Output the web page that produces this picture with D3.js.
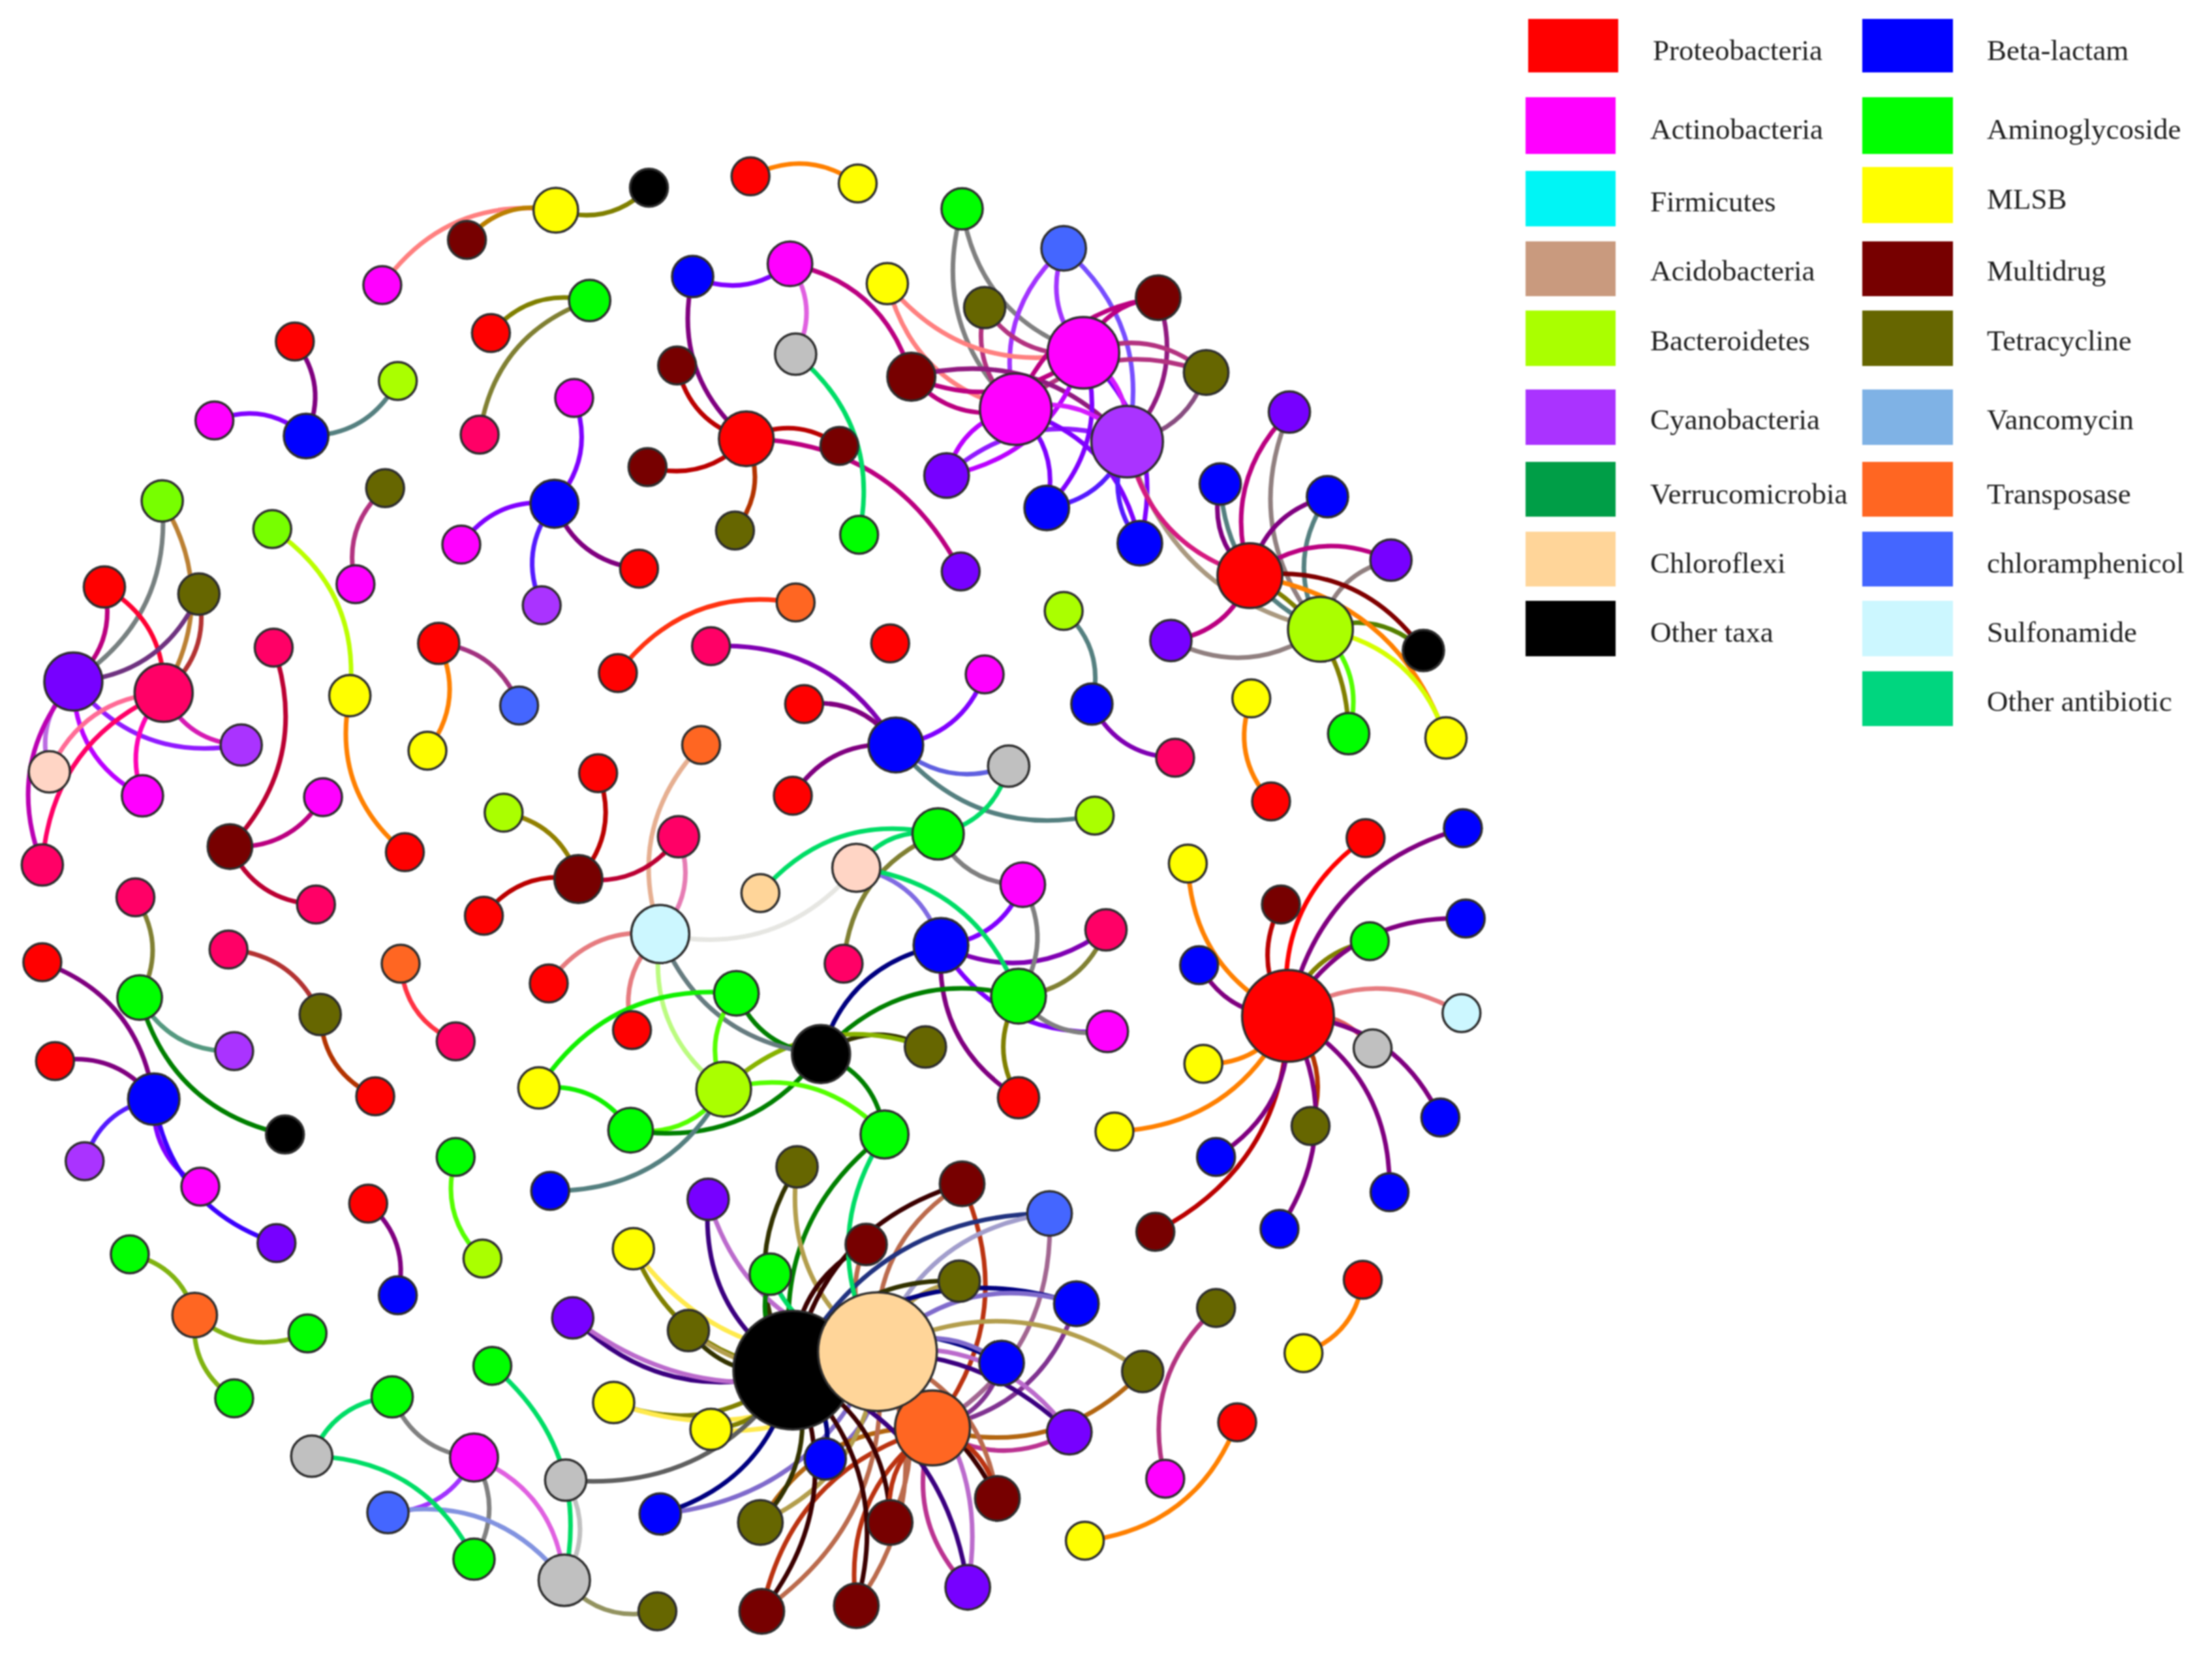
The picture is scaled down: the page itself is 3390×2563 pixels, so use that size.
<!DOCTYPE html>
<html>
<head>
<meta charset="utf-8">
<title>Co-occurrence network</title>
<script src="https://cdn.jsdelivr.net/npm/d3@7"></script>
<style>
  html, body { margin: 0; background: #fff; }
</style>
</head>
<body>
<div id="d3-container"></div>
<script>
// nodes per group: [id, x, y] in a 1568 x 1185 frame
const proteobacteria = [['r1',532,125],['r2',348,236],['r3',209,242],['r4',74,416],['r5',311,456],['r6',438,477],['r7',631,456],['r8',570,499],['r9',562,564],['r10',424,548],['r11',343,649],['r12',287,604],['r13',389,697],['r14',448,730],['r15',722,778],['r16',30,682],['r17',39,752],['r18',266,777],['r19',261,853],['r20',453,403],['r21',529,311],['r22',886,408],['r23',901,568],['r24',913,720],['r25',968,594],['r26',966,907],['r27',877,1008]];
const actinobacteria = [['a1',271,202],['a2',407,282],['a3',152,298],['a4',327,386],['a5',252,414],['a6',101,564],['a7',229,565],['a8',560,187],['a9',768,250],['a10',720,290],['a11',698,478],['a12',725,627],['a13',785,731],['a14',142,841],['a15',336,1033],['a16',826,1048]];
const betaLactam = [['b1',491,196],['b2',217,309],['b3',393,357],['b4',742,360],['b5',808,385],['b6',865,343],['b7',941,352],['b8',635,528],['b9',774,499],['b10',667,670],['b11',109,779],['b12',390,844],['b13',282,918],['b14',850,684],['b15',1037,587],['b16',1039,651],['b17',862,820],['b18',1021,792],['b19',985,845],['b20',907,871],['b21',763,924],['b22',710,966],['b23',585,1034],['b24',468,1073]];
const aminoglycoside = [['g1',682,148],['g2',418,213],['g3',609,379],['g4',956,520],['g5',665,591],['g6',722,706],['g7',522,704],['g8',447,801],['g9',627,804],['g10',99,707],['g11',323,820],['g12',92,889],['g13',218,945],['g14',166,991],['g15',349,968],['g16',278,990],['g17',336,1105],['g18',546,903],['g19',971,667]];
const mlsb = [['y1',394,149],['y2',608,130],['y3',629,201],['y4',248,493],['y5',303,532],['y6',887,495],['y7',1025,523],['y8',842,612],['y9',382,771],['y10',853,754],['y11',790,802],['y12',449,885],['y13',435,994],['y14',504,1013],['y15',924,959],['y16',769,1092]];
const multidrug = [['m1',331,170],['m2',821,211],['m3',480,259],['m4',646,267],['m5',459,331],['m6',595,316],['m7',163,600],['m8',410,623],['m9',908,641],['m10',819,873],['m11',682,839],['m12',614,882],['m13',707,1062],['m14',631,1079],['m15',540,1142],['m16',607,1138]];
const tetracycline = [['t1',698,218],['t2',855,264],['t3',273,346],['t4',141,421],['t5',521,376],['t6',656,742],['t7',227,719],['t8',929,798],['t9',565,827],['t10',680,908],['t11',488,943],['t12',810,972],['t13',539,1079],['t14',466,1142],['t15',862,927]];
const otherTaxa = [['k1',460,133],['k2',1009,461],['k3',582,747],['k4',202,804],['k5',562,971]];
const crimsonTaxa = [['c1',340,308],['c2',116,491],['c3',30,613],['c4',194,459],['c5',224,641],['c6',504,458],['c7',833,537],['c8',481,593],['c9',96,636],['c10',162,673],['c11',323,738],['c12',784,659],['c13',598,683]];
const violetTaxa = [['v1',52,483],['v2',681,405],['v3',671,337],['v4',914,292],['v5',986,397],['v6',830,454],['v7',196,881],['v8',502,850],['v9',406,934],['v10',758,1015],['v11',686,1125]];
const cyanobacteria = [['s1',799,313],['s2',384,429],['s3',171,528],['s4',166,745],['s5',60,823]];
const bacteroidetes = [['h1',282,270],['h2',936,446],['h3',754,433],['h4',776,578],['h5',357,576],['h6',513,772],['h7',342,892]];
const limeTaxa = [['l1',115,355],['l2',193,375]];
const chloramphenicol = [['e1',754,176],['e2',368,500],['e3',275,1072],['e4',744,860]];
const transposase = [['o1',564,427],['o2',497,528],['o3',284,683],['o4',138,932],['o5',661,1012]];
const sulfonamide = [['u1',468,662],['u2',1036,718]];
const blushTaxa = [['p1',35,547],['p2',607,615]];
const silverGenes = [['w1',564,251],['w2',715,543],['w3',973,743],['w4',221,1032],['w5',401,1049],['w6',400,1120]];
const chloroflexi = [['f1',539,633],['f2',622,958]];

// links: [from, to], the arc always bulges to the left of from -> to
const links = [
  ['a1','y1'],['m1','y1'],['k1','y1'],['r1','y2'],['r2','g2'],['c1','g2'],
  ['a2','b3'],['a4','b3'],['s2','b3'],['r20','b3'],['r3','b2'],['a3','b2'],['h1','b2'],
  ['l1','c2'],['l1','v1'],['r4','v1'],['r4','c2'],['t4','v1'],['t4','c2'],['s3','v1'],['s3','c2'],
  ['p1','v1'],['c3','v1'],['a6','v1'],['a6','c2'],['p1','c2'],['c3','c2'],
  ['l2','y4'],['r12','y4'],['a5','t3'],['c4','m7'],['a7','m7'],['c5','m7'],['r5','e2'],['r5','y5'],['r6','o1'],
  ['c6','b8'],['r8','b8'],['r9','b8'],['a11','b8'],['w2','b8'],['h4','b8'],
  ['c13','g5'],['a12','g5'],['p2','b10'],['p2','u1'],['a12','b10'],['c12','b10'],['c12','g6'],
  ['a13','b10'],['a13','g6'],['a12','g6'],['r15','b10'],['r15','g6'],['k3','b10'],['k3','g6'],['k3','t6'],['h6','t6'],
  ['k3','g7'],['k3','u1'],['h6','u1'],['r13','u1'],['r14','u1'],['c8','u1'],['u1','o2'],
  ['h5','m8'],['r10','m8'],['r11','m8'],['c8','m8'],
  ['h6','g8'],['k3','g8'],['h6','g7'],['h6','g9'],['k3','g9'],['h6','b12'],['k5','g9'],
  ['k5','t9'],['f2','t9'],['k5','v8'],['f2','v8'],['k5','y12'],['f2','y12'],['k5','g18'],
  ['k5','m11'],['f2','m11'],['m11','o5'],['k5','m12'],['f2','m12'],['k5','e4'],['f2','e4'],['e4','o5'],
  ['k5','t10'],['f2','t10'],['k5','b21'],['f2','b21'],['b21','o5'],['f2','t12'],['t12','o5'],
  ['k5','b22'],['f2','b22'],['b22','o5'],['k5','v10'],['f2','v10'],['v10','o5'],
  ['k5','v9'],['f2','v9'],['k5','t11'],['f2','t11'],['k5','y13'],['f2','y13'],['k5','y14'],['f2','y14'],
  ['k5','w5'],['k5','b24'],['f2','b24'],['k5','b23'],['f2','b23'],['t13','o5'],['k5','t13'],['f2','t13'],
  ['m15','o5'],['k5','m15'],['f2','m15'],['m16','o5'],['k5','m16'],['f2','m16'],
  ['k5','m14'],['m14','o5'],['f2','m14'],['k5','m13'],['f2','m13'],['o5','m13'],['v11','o5'],['k5','v11'],['f2','v11'],
  ['a15','g16'],['a15','e3'],['a15','g17'],['a15','w6'],['e3','w6'],['w5','w6'],['t14','w6'],
  ['g12','o4'],['g13','o4'],['g14','o4'],['h7','g11'],['r19','b13'],
  ['c9','g10'],['s4','g10'],['k4','g10'],['r16','b11'],['r17','b11'],['s5','b11'],['a14','b11'],['v7','b11'],
  ['c10','t7'],['r18','t7'],['c11','o3'],
  ['a10','g1'],['a9','g1'],['a10','e1'],['a9','e1'],['e1','s1'],['a10','t1'],['a9','t1'],['a10','y3'],['a9','y3'],
  ['a10','m2'],['a9','m2'],['m2','s1'],['a9','t2'],['a10','t2'],['t2','s1'],['m4','s1'],['a10','m4'],['a9','m4'],
  ['a8','m4'],['a8','b1'],['r21','b1'],['a8','w1'],['r21','m3'],['r21','m5'],['r21','m6'],['r21','v2'],['r21','t5'],
  ['v3','a10'],['a9','v3'],['v3','s1'],['a10','b4'],['a9','b4'],['s1','b4'],['a10','b5'],['a9','b5'],['b5','s1'],
  ['a9','s1'],['a10','s1'],['h2','s1'],['r22','s1'],
  ['r22','v4'],['h2','v4'],['r22','b6'],['h2','b6'],['r22','b7'],['h2','b7'],['r22','v5'],['h2','v5'],
  ['r22','k2'],['h2','k2'],['r22','v6'],['h2','v6'],['r22','y7'],['h2','y7'],['h2','g4'],['r22','g4'],
  ['h3','b9'],['c7','b9'],['r23','y6'],
  ['r24','r25'],['r24','b15'],['r24','g19'],['r24','b16'],['r24','u2'],['r24','w3'],['r24','b18'],['r24','b19'],
  ['r24','t8'],['r24','b20'],['r24','m10'],['r24','b17'],['r24','y11'],['r24','y10'],['r24','b14'],['r24','y8'],['r24','m9'],
  ['r26','y15'],['a16','t15'],['r27','y16']
];
// these links are not the plain blend of their two ends in the picture
const springLinks = [['w2','g5'],['f1','g5'],['p2','g5'],['p2','g6'],['f2','g9'],['f2','g18'],['w1','g3'],['w4','g16'],['w4','g17'],['g15','w6']];
const brightLinks = [['y9','g7'],['y9','g8']];

// legend
const taxaLabels = ['Proteobacteria','Actinobacteria','Firmicutes','Acidobacteria','Bacteroidetes','Cyanobacteria','Verrucomicrobia','Chloroflexi','Other taxa'];
const taxaColors = ['#ff0000','#ff00ff','#00f5f5','#c99a7e','#aaff00','#aa33ff','#009e47','#ffd599','#000000'];
const geneLabels = ['Beta-lactam','Aminoglycoside','MLSB','Multidrug','Tetracycline','Vancomycin','Transposase','chloramphenicol','Sulfonamide','Other antibiotic'];
const geneColors = ['#0000ff','#00ff00','#ffff00','#770000','#666600','#7fb2e5','#ff6622','#4466ff','#ccf7ff','#00d67f'];

const width = 3390;
const height = 2563;

// group -> node fill, black first and chloroflexi last so the big hubs stack like the picture
const groups = [
  [otherTaxa, '#000000'], [proteobacteria, '#ff0000'], [actinobacteria, '#ff00ff'], [betaLactam, '#0000ff'],
  [aminoglycoside, '#00ff00'], [mlsb, '#ffff00'], [multidrug, '#770000'], [tetracycline, '#666600'],
  [crimsonTaxa, '#ff0066'], [violetTaxa, '#7700ff'], [cyanobacteria, '#aa33ff'], [bacteroidetes, '#aaff00'],
  [limeTaxa, '#77ff00'], [chloramphenicol, '#4466ff'], [transposase, '#ff6622'], [sulfonamide, '#ccf7ff'],
  [blushTaxa, '#ffd5c5'], [silverGenes, '#c0c0c0'], [chloroflexi, '#ffd599']
];

const nodes = groups.flatMap(([list, fill]) => list.map(d => ({ id: d[0], x: d[1], y: d[2], fill, degree: 0 })));
const byId = new Map(nodes.map(d => [d.id, d]));

const edges = [
  ...links.map(d => ({ a: byId.get(d[0]), b: byId.get(d[1]) })),
  ...springLinks.map(d => ({ a: byId.get(d[0]), b: byId.get(d[1]), color: '#00dd66' })),
  ...brightLinks.map(d => ({ a: byId.get(d[0]), b: byId.get(d[1]), color: '#11f000' }))
];
edges.forEach(e => { e.a.degree++; e.b.degree++; });

const x = d3.scaleLinear().domain([0, 1568]).range([0, width]);
const y = d3.scaleLinear().domain([0, 1185]).range([0, height]);
const r = d3.scaleLinear().domain(d3.extent(nodes.filter(d => d.degree > 0), d => d.degree)).range([29, 91]);

const svg = d3.select('#d3-container')
    .append('svg')
    .attr('width', width)
    .attr('height', height)
    .attr('viewBox', [0, 0, width, height])
    .style('display', 'block')
    .style('filter', 'blur(0.9px)');

const bend = 0.3;

function arc(e) {
  const ax = x(e.a.x), ay = y(e.a.y), bx = x(e.b.x), by = y(e.b.y);
  const cx = (ax + bx) / 2 + (by - ay) * bend;
  const cy = (ay + by) / 2 - (bx - ax) * bend;
  return `M${ax},${ay}Q${cx},${cy} ${bx},${by}`;
}

svg.append('g')
    .attr('fill', 'none')
    .attr('stroke-width', 7)
  .selectAll('path')
  .data(edges)
  .join('path')
    .attr('d', arc)
    .attr('stroke', e => e.color || d3.interpolateRgb(e.a.fill, e.b.fill)(0.5));

svg.append('g')
    .attr('stroke', '#2e2e2e')
    .attr('stroke-width', 3.5)
  .selectAll('circle')
  .data(nodes)
  .join('circle')
    .attr('cx', d => x(d.x))
    .attr('cy', d => y(d.y))
    .attr('r', d => d.degree ? r(d.degree) : r.range()[0])
    .attr('fill', d => d.fill);

// legend boxes sit on slightly uneven rows, so the rows are listed by hand
const taxaRows = [[29,111,92],[149,236,213],[262,347,324],[370,454,430],[476,561,537],[597,682,658],[708,792,772],[815,899,878],[921,1006,984]];
const geneRows = [[29,111,92],[149,236,213],[256,342,320],[370,454,430],[476,561,537],[597,682,658],[708,792,772],[815,899,878],[921,1006,984],[1029,1113,1090]];

function legend(labels, colors, rows, keyX, keyW, textX) {
  const g = svg.append('g');
  g.selectAll('rect')
    .data(labels)
    .join('rect')
      .attr('x', (d, i) => (i === 0 && keyX < 2400) ? keyX + 4 : keyX)
      .attr('y', (d, i) => rows[i][0])
      .attr('width', keyW)
      .attr('height', (d, i) => rows[i][1] - rows[i][0])
      .attr('fill', (d, i) => colors[i]);
  g.selectAll('text')
    .data(labels)
    .join('text')
      .attr('x', (d, i) => (i === 0 && keyX < 2400) ? textX + 4 : textX)
      .attr('y', (d, i) => rows[i][2])
      .attr('font-family', '"Liberation Serif", serif')
      .attr('font-size', 45)
      .attr('fill', '#1f1f1f')
      .text(d => d);
}

legend(taxaLabels, taxaColors, taxaRows, 2338, 138, 2529);
legend(geneLabels, geneColors, geneRows, 2854, 139, 3045);
</script>
</body>
</html>
